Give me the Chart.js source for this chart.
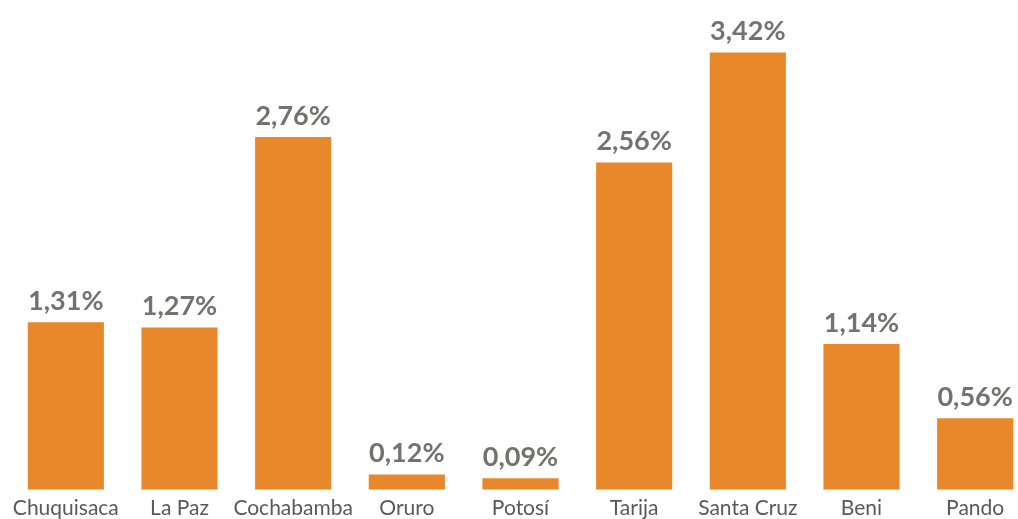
<!DOCTYPE html>
<html>
<head>
<meta charset="utf-8">
<script src="https://cdn.jsdelivr.net/npm/chart.js@4/dist/chart.umd.min.js"></script>
<style>
  html, body { margin: 0; padding: 0; background: #fff; overflow: hidden; }
  #wrap { position: relative; width: 1032px; height: 519px; }
</style>
</head>
<body>
<div id="wrap"><canvas id="c"></canvas></div>
<script>
const categories = ["Chuquisaca", "La Paz", "Cochabamba", "Oruro", "Potosí", "Tarija", "Santa Cruz", "Beni", "Pando"];
const values = [1.31, 1.27, 2.76, 0.12, 0.09, 2.56, 3.42, 1.14, 0.56];
const valueLabels = ["1,31%", "1,27%", "2,76%", "0,12%", "0,09%", "2,56%", "3,42%", "1,14%", "0,56%"];

const labelPlugin = {
  id: 'valueLabels',
  afterDatasetsDraw(chart) {
    const ctx = chart.ctx;
    const meta = chart.getDatasetMeta(0);
    ctx.save();
    ctx.font = 'bold 27px Lato, "DejaVu Sans", sans-serif';
    ctx.fillStyle = '#767171';
    ctx.textAlign = 'center';
    ctx.textBaseline = 'middle';
    meta.data.forEach((bar, i) => {
      ctx.fillText(valueLabels[i], bar.x, bar.y - 21);
    });
    ctx.restore();
  }
};

new Chart(document.getElementById('c'), {
  type: 'bar',
  data: {
    labels: categories,
    datasets: [{
      data: values,
      backgroundColor: '#E8882A',
      barPercentage: 0.67,
      categoryPercentage: 1.0
    }]
  },
  options: {
    responsive: true,
    maintainAspectRatio: false,
    animation: false,
    layout: { padding: { left: 9, right: 0, top: 4, bottom: -8 } },
    plugins: { legend: { display: false }, tooltip: { enabled: false } },
    scales: {
      y: { display: false, min: 0, max: 3.8 },
      x: {
        grid: { display: false, drawTicks: false },
        border: { display: false },
        ticks: {
          color: '#595959',
          font: { family: 'Lato, "DejaVu Sans", sans-serif', size: 21 },
          padding: 6,
          maxRotation: 0,
          autoSkip: false
        }
      }
    }
  },
  plugins: [labelPlugin]
});
</script>
</body>
</html>
